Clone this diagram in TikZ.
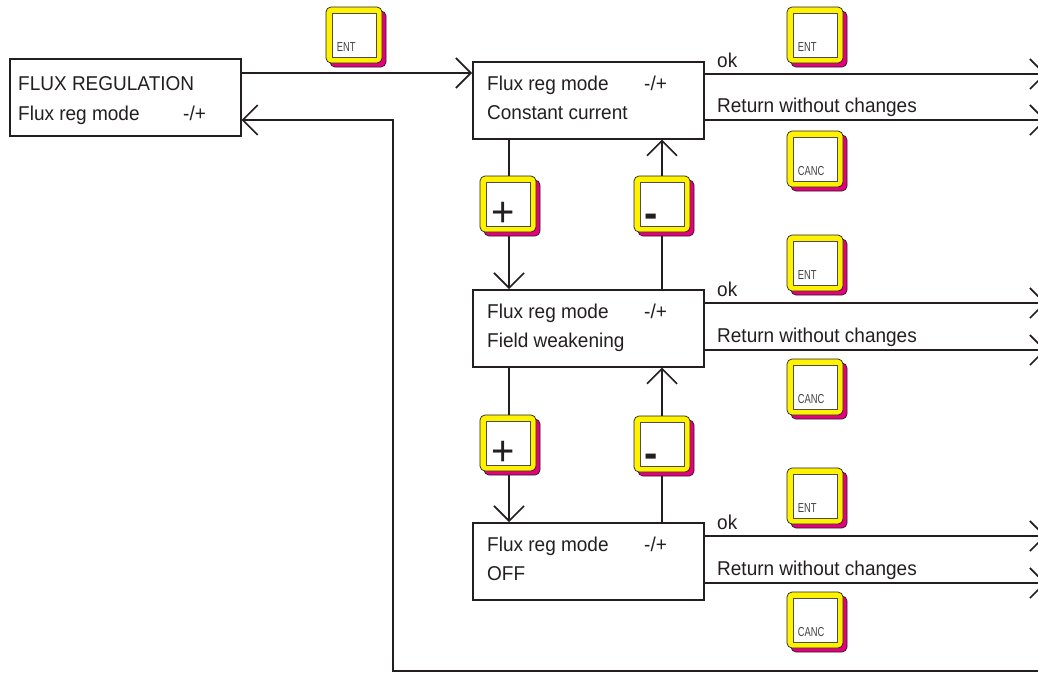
\documentclass[tikz,border=0pt]{standalone}
\usepackage{fontspec}
\setmainfont[FakeStretch=0.95]{Liberation Sans}
\newfontfamily\keyfont[FakeStretch=0.72]{Liberation Sans}
\usetikzlibrary{arrows.meta, positioning, calc, shadows}
\definecolor{keyyellow}{RGB}{255,242,0}
\definecolor{keypink}{RGB}{230,0,126}
\definecolor{ink}{RGB}{35,31,32}
\tikzset{
  menubox/.style={draw=ink, line width=1.6pt, minimum width=231pt, minimum height=77pt, anchor=north west, inner sep=0pt},
  txt/.style={text=ink, font=\fontsize{20}{24}\selectfont, inner sep=0pt, anchor=base west},
  keycap/.style={draw=ink, line width=0.7pt, fill=keyyellow, rounded corners=5pt, minimum width=56pt, minimum height=56pt, inner sep=0pt,
    general shadow={fill=keypink, draw=ink, line width=0.7pt, shadow xshift=4pt, shadow yshift=-4pt}},
  keyface/.style={draw=ink!80, line width=0.8pt, fill=white, minimum width=44pt, minimum height=44pt, inner sep=0pt},
  keytxt/.style={text=ink!85, font=\keyfont\fontsize{13}{14}\selectfont, inner sep=0pt, anchor=base west},
  plustxt/.style={text=ink, font=\fontsize{42}{42}\selectfont, inner sep=0pt, anchor=base},
  minustxt/.style={text=ink, font=\bfseries\fontsize{42}{42}\selectfont, inner sep=0pt, anchor=base west},
  flow/.style={draw=ink, line width=1.6pt, -{Straight Barb[length=15pt,width=30pt]}},
}
\begin{document}
\begin{tikzpicture}[x=1pt, y=-1pt]
\useasboundingbox[fill=white] (0,0) rectangle (1038,673);

% menu boxes
\node[menubox] (reg) at (9,58) {};
\node[menubox] (mode1) at (472,61) {};
\node[menubox] (mode2) at (472,289) {};
\node[menubox] (mode3) at (472,522) {};

\node[txt] at (18,90) {FLUX REGULATION};
\node[txt] at (18,120) {Flux reg mode};
\node[txt] at (183,120) {-/+};

\node[txt] at (487,90) {Flux reg mode};
\node[txt] at (644,90) {-/+};
\node[txt] at (487,119) {Constant current};

\node[txt] at (487,318) {Flux reg mode};
\node[txt] at (644,318) {-/+};
\node[txt] at (487,347) {Field weakening};

\node[txt] at (487,551) {Flux reg mode};
\node[txt] at (644,551) {-/+};
\node[txt] at (487,580) {OFF};

% into the menu and back
\coordinate (regout) at ([yshift=-15pt]reg.north east);
\coordinate (regin) at ([yshift=-62pt]reg.north east);
\coordinate (back) at (1045,671);
\coordinate (loop) at (393,671);
\draw[flow] (regout) -- (regout -| mode1.west);
\draw[flow] (back) -- (loop) |- (regin);

% scrolling between modes
\draw[flow] ([xshift=37pt]mode1.south west) -- ([xshift=37pt]mode2.north west);
\draw[flow] ([xshift=190pt]mode2.north west) -- ([xshift=190pt]mode1.south west);
\draw[flow] ([xshift=37pt]mode2.south west) -- ([xshift=37pt]mode3.north west);
\draw[flow] ([xshift=190pt]mode3.north west) -- ([xshift=190pt]mode2.south west);

% exits
\coordinate (ok1) at (1046,74);
\coordinate (ret1) at (1046,120);
\coordinate (ok2) at (1046,303);
\coordinate (ret2) at (1046,350);
\coordinate (ok3) at (1046,536);
\coordinate (ret3) at (1046,583);
\draw[flow] (mode1.east |- ok1) -- (ok1);
\draw[flow] (mode1.east |- ret1) -- (ret1);
\draw[flow] (mode2.east |- ok2) -- (ok2);
\draw[flow] (mode2.east |- ret2) -- (ret2);
\draw[flow] (mode3.east |- ok3) -- (ok3);
\draw[flow] (mode3.east |- ret3) -- (ret3);

\node[txt] at (717,67) {ok};
\node[txt] at (717,112) {Return without changes};
\node[txt] at (717,296) {ok};
\node[txt] at (717,342) {Return without changes};
\node[txt] at (717,529) {ok};
\node[txt] at (717,575) {Return without changes};

% keys
\node[keycap] (ent0) at (354,35) {};
\node[keyface] (ent0f) at (ent0) {};
\node[keytxt] at ([xshift=5pt,yshift=6pt]ent0f.south west) {ENT};

\node[keycap] (ent1) at (815,35) {};
\node[keyface] (ent1f) at (ent1) {};
\node[keytxt] at ([xshift=5pt,yshift=6pt]ent1f.south west) {ENT};
\node[keycap] (canc1) at (815,159) {};
\node[keyface] (canc1f) at (canc1) {};
\node[keytxt] at ([xshift=5pt,yshift=6pt]canc1f.south west) {CANC};

\node[keycap] (ent2) at (815,263) {};
\node[keyface] (ent2f) at (ent2) {};
\node[keytxt] at ([xshift=5pt,yshift=6pt]ent2f.south west) {ENT};
\node[keycap] (canc2) at (815,387) {};
\node[keyface] (canc2f) at (canc2) {};
\node[keytxt] at ([xshift=5pt,yshift=6pt]canc2f.south west) {CANC};

\node[keycap] (ent3) at (815,496) {};
\node[keyface] (ent3f) at (ent3) {};
\node[keytxt] at ([xshift=5pt,yshift=6pt]ent3f.south west) {ENT};
\node[keycap] (canc3) at (815,620) {};
\node[keyface] (canc3f) at (canc3) {};
\node[keytxt] at ([xshift=5pt,yshift=6pt]canc3f.south west) {CANC};

\node[keycap] (plus1) at (508,204) {};
\node[keyface] (plus1f) at (plus1) {};
\node[plustxt] at ([xshift=18pt,yshift=0pt]plus1f.south west) {+};
\node[keycap] (minus1) at (662,204) {};
\node[keyface] (minus1f) at (minus1) {};
\node[minustxt] at ([xshift=5pt,yshift=-1pt]minus1f.south west) {-};

\node[keycap] (plus2) at (508,443) {};
\node[keyface] (plus2f) at (plus2) {};
\node[plustxt] at ([xshift=18pt,yshift=0pt]plus2f.south west) {+};
\node[keycap] (minus2) at (662,444) {};
\node[keyface] (minus2f) at (minus2) {};
\node[minustxt] at ([xshift=5pt,yshift=-1pt]minus2f.south west) {-};
\end{tikzpicture}
\end{document}
